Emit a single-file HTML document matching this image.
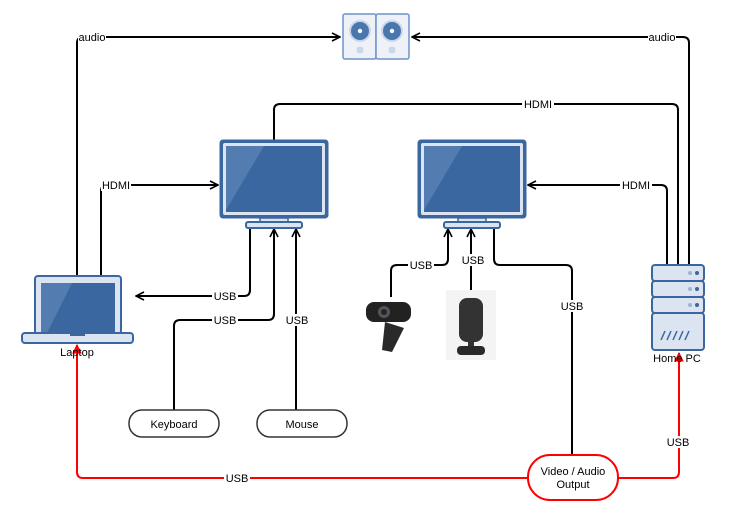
<!DOCTYPE html>
<html><head><meta charset="utf-8"><style>
html,body{margin:0;padding:0;background:#fff;}
svg{display:block;font-family:"Liberation Sans",Arial,sans-serif;}
</style></head><body>
<svg width="733" height="520" viewBox="0 0 733 520" xmlns="http://www.w3.org/2000/svg">
<defs>
<marker id="a" viewBox="0 0 10 10" refX="9" refY="5" markerWidth="10" markerHeight="10" orient="auto" markerUnits="userSpaceOnUse"><path d="M1,1 L9,5 L1,9" fill="none" stroke="#000" stroke-width="1.6"/></marker>
<marker id="r" viewBox="0 0 10 10" refX="9" refY="5" markerWidth="10" markerHeight="10" orient="auto" markerUnits="userSpaceOnUse"><path d="M1,1 L9,5 L1,9 Z" fill="#f00" stroke="#f00" stroke-width="1"/></marker>
<g id="mon">
<rect x="0" y="0" width="108" height="78" rx="3" fill="#3b67a0" stroke="#3b67a0"/>
<rect x="3" y="3" width="102" height="72" rx="2" fill="#dbe4f0"/>
<rect x="6" y="6" width="96" height="66" fill="#3b67a0"/>
<path d="M6,6 L44,6 L6,70 Z" fill="#5a82b5" opacity="0.8"/>
<rect x="40" y="78" width="28" height="4" fill="#dbe4f0" stroke="#3b67a0" stroke-width="1.5"/>
<rect x="26" y="82" width="56" height="6" rx="2" fill="#dbe4f0" stroke="#3b67a0" stroke-width="2"/>
</g>
</defs>
<g fill="none" stroke="#000" stroke-width="2">
<path d="M77,277 V43 Q77,37 83,37 H340" marker-end="url(#a)"/>
<path d="M689,265 V43 Q689,37 683,37 H412" marker-end="url(#a)"/>
<path d="M274,140 V110 Q274,104 280,104 H672 Q678,104 678,110 V265"/>
<path d="M101,277 V191 Q101,185 107,185 H218" marker-end="url(#a)"/>
<path d="M667,265 V191 Q667,185 661,185 H528" marker-end="url(#a)"/>
<path d="M250,229 V290 Q250,296 244,296 H136" marker-end="url(#a)"/>
<path d="M174,410 V326 Q174,320 180,320 H268 Q274,320 274,314 V229" marker-end="url(#a)"/>
<path d="M296,410 V229" marker-end="url(#a)"/>
<path d="M391,297 V271 Q391,265 397,265 H442 Q448,265 448,259 V229" marker-end="url(#a)"/>
<path d="M471,292 V229" marker-end="url(#a)"/>
<path d="M494,229 V259 Q494,265 500,265 H566 Q572,265 572,271 V455"/>
</g>
<g fill="none" stroke="#f00" stroke-width="2">
<path d="M528,478 H83 Q77,478 77,472 V345" marker-end="url(#r)"/>
<path d="M617,478 H673 Q679,478 679,472 V353" marker-end="url(#r)"/>
</g>
<g font-size="11" text-anchor="middle">
<rect x="78" y="31" width="28" height="12" fill="#fff"/><text x="92" y="41">audio</text>
<rect x="648" y="31" width="28" height="12" fill="#fff"/><text x="662" y="41">audio</text>
<rect x="522" y="98" width="32" height="12" fill="#fff"/><text x="538" y="108">HDMI</text>
<rect x="101" y="179" width="30" height="12" fill="#fff"/><text x="116" y="189">HDMI</text>
<rect x="620" y="179" width="32" height="12" fill="#fff"/><text x="636" y="189">HDMI</text>
<rect x="212" y="290" width="26" height="12" fill="#fff"/><text x="225" y="300">USB</text>
<rect x="212" y="314" width="26" height="12" fill="#fff"/><text x="225" y="324">USB</text>
<rect x="284" y="314" width="26" height="12" fill="#fff"/><text x="297" y="324">USB</text>
<rect x="408" y="259" width="26" height="12" fill="#fff"/><text x="421" y="269">USB</text>
<rect x="460" y="254" width="26" height="12" fill="#fff"/><text x="473" y="264">USB</text>
<rect x="559" y="300" width="26" height="12" fill="#fff"/><text x="572" y="310">USB</text>
<rect x="224" y="472" width="26" height="12" fill="#fff"/><text x="237" y="482">USB</text>
<rect x="665" y="436" width="26" height="12" fill="#fff"/><text x="678" y="446">USB</text>
</g>
<!-- speakers -->
<g>
<rect x="343" y="14" width="33" height="45" rx="2" fill="#eef2f8" stroke="#6d93c6" stroke-width="1.5"/>
<rect x="376" y="14" width="33" height="45" rx="2" fill="#eef2f8" stroke="#6d93c6" stroke-width="1.5"/>
<circle cx="360" cy="31" r="11" fill="#c9d6ea"/><circle cx="360" cy="31" r="9" fill="#4a76ae"/><circle cx="360" cy="31" r="2.2" fill="#fff"/>
<circle cx="392" cy="31" r="11" fill="#c9d6ea"/><circle cx="392" cy="31" r="9" fill="#4a76ae"/><circle cx="392" cy="31" r="2.2" fill="#fff"/>
<circle cx="360" cy="50" r="3.5" fill="#c9d6ea"/><circle cx="392" cy="50" r="3.5" fill="#c9d6ea"/>
</g>
<use href="#mon" x="220" y="140"/>
<use href="#mon" x="418" y="140"/>
<!-- laptop -->
<g>
<rect x="35" y="276" width="86" height="58" rx="3" fill="#dbe4f0" stroke="#3b67a0" stroke-width="2"/>
<rect x="41" y="283" width="74" height="50" fill="#3b67a0"/>
<path d="M41,283 L72,283 L47,333 L41,333 Z" fill="#5a82b5" opacity="0.8"/>
<rect x="22" y="333" width="111" height="10" rx="3" fill="#dbe4f0" stroke="#3b67a0" stroke-width="2"/>
<rect x="70" y="333" width="15" height="3" fill="#3b67a0"/>
<text x="77" y="356" font-size="11" text-anchor="middle">Laptop</text>
</g>
<!-- server -->
<g stroke="#3b67a0" stroke-width="2" fill="#dbe4f0">
<rect x="652" y="265" width="52" height="16" rx="3"/>
<rect x="652" y="281" width="52" height="16" rx="3"/>
<rect x="652" y="297" width="52" height="16" rx="3"/>
<rect x="652" y="313" width="52" height="37" rx="3"/>
<path d="M661,340 l4,-9 M667,340 l4,-9 M673,340 l4,-9 M679,340 l4,-9 M685,340 l4,-9" stroke-width="1.5"/>
</g>
<g fill="#3b67a0"><circle cx="697" cy="273" r="2"/><circle cx="697" cy="289" r="2"/><circle cx="697" cy="305" r="2"/></g>
<g fill="#9fb4d5"><circle cx="690" cy="273" r="2"/><circle cx="690" cy="289" r="2"/><circle cx="690" cy="305" r="2"/></g>
<text x="677" y="362" font-size="11" text-anchor="middle">Home PC</text>
<!-- webcam -->
<g>
<rect x="366" y="302" width="45" height="20" rx="8" fill="#222"/>
<circle cx="384" cy="312" r="6" fill="#555"/><circle cx="384" cy="312" r="3" fill="#223"/>
<path d="M385,322 L404,328 L392,352 L382,350 Z" fill="#2a2a2a"/>
</g>
<!-- mic -->
<g>
<rect x="446" y="290" width="50" height="70" fill="#f4f4f4"/>
<rect x="459" y="298" width="24" height="44" rx="8" fill="#333"/>
<rect x="468" y="342" width="6" height="6" fill="#333"/>
<rect x="457" y="346" width="28" height="9" rx="4" fill="#2a2a2a"/>
</g>
<!-- nodes -->
<rect x="129" y="410" width="90" height="27" rx="13" fill="#fff" stroke="#333" stroke-width="1.5"/>
<text x="174" y="428" font-size="11" text-anchor="middle">Keyboard</text>
<rect x="257" y="410" width="90" height="27" rx="13" fill="#fff" stroke="#333" stroke-width="1.5"/>
<text x="302" y="428" font-size="11" text-anchor="middle">Mouse</text>
<rect x="528" y="455" width="90" height="45" rx="22" fill="#fff" stroke="#f00" stroke-width="2"/>
<text x="573" y="475" font-size="11" text-anchor="middle">Video / Audio</text>
<text x="573" y="488" font-size="11" text-anchor="middle">Output</text>
</svg>
</body></html>
